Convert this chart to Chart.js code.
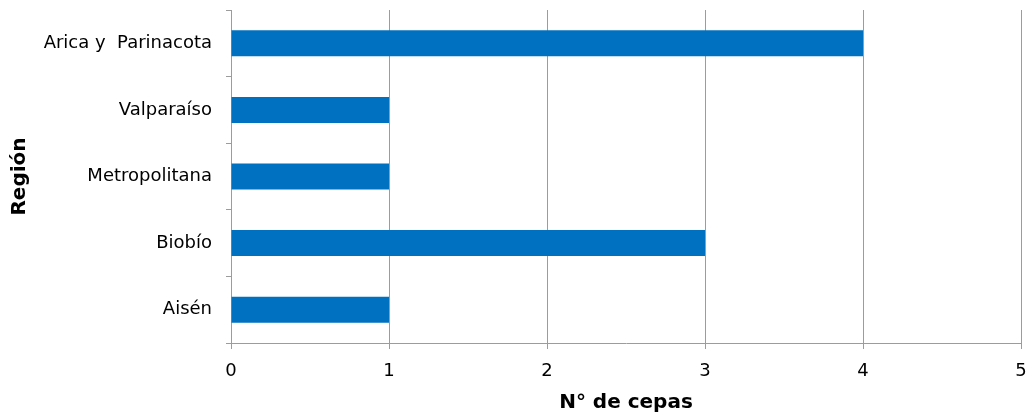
<!DOCTYPE html>
<html>
<head>
<meta charset="utf-8">
<script src="https://cdn.jsdelivr.net/npm/chart.js@4/dist/chart.umd.min.js"></script>
<style>
  html, body { margin: 0; padding: 0; background: #fff; }
  #wrap { width: 1029px; height: 415px; }
</style>
</head>
<body>
<div id="wrap"><canvas id="cepas-chart"></canvas></div>
<script>
const regiones = ['Arica y  Parinacota', 'Valparaíso', 'Metropolitana', 'Biobío', 'Aisén'];
const cepas = [4, 1, 1, 3, 1];
const xTicks = [0, 1, 2, 3, 4, 5];

const gridGray = '#9c9c9c';
const font = "'DejaVu Sans', Verdana, sans-serif";

new Chart(document.querySelector('#cepas-chart').getContext('2d'), {
    type: 'bar',
    data: {
        labels: regiones,
        datasets: [{
            data: cepas,
            backgroundColor: '#0070c0',
            borderWidth: 0,
            barPercentage: 0.39,
            categoryPercentage: 1
        }]
    },
    options: {
        indexAxis: 'y',
        responsive: true,
        maintainAspectRatio: false,
        animation: false,
        layout: { padding: 0 },
        plugins: { legend: { display: false }, tooltip: { enabled: false } },
        scales: {
            x: {
                min: 0,
                max: 5,
                afterBuildTicks: scale => { scale.ticks = xTicks.map(v => ({ value: v })); },
                afterFit: scale => {
                    scale.height = 72;
                    scale.paddingLeft = 0;
                    scale.paddingRight = 8;
                },
                grid: { color: gridGray, lineWidth: 1, tickLength: 6 },
                border: { color: gridGray },
                ticks: { color: '#000', font: { family: font, size: 18 }, padding: 12 },
                title: {
                    display: true,
                    text: 'N° de cepas',
                    color: '#000',
                    font: { family: font, size: 20, weight: 'bold' },
                    padding: { top: 0, bottom: 0 }
                }
            },
            y: {
                afterFit: scale => {
                    scale.width = 231;
                    scale.paddingTop = 10;
                    scale.paddingBottom = 0;
                },
                grid: { color: gridGray, offset: true, drawOnChartArea: false, tickLength: 5 },
                border: { color: gridGray },
                ticks: { color: '#000', font: { family: font, size: 18 }, padding: 14 },
                title: {
                    display: true,
                    text: 'Región',
                    color: '#000',
                    font: { family: font, size: 20, weight: 'bold' },
                    padding: { top: 8, bottom: 0 }
                }
            }
        }
    }
});
</script>
</body>
</html>
